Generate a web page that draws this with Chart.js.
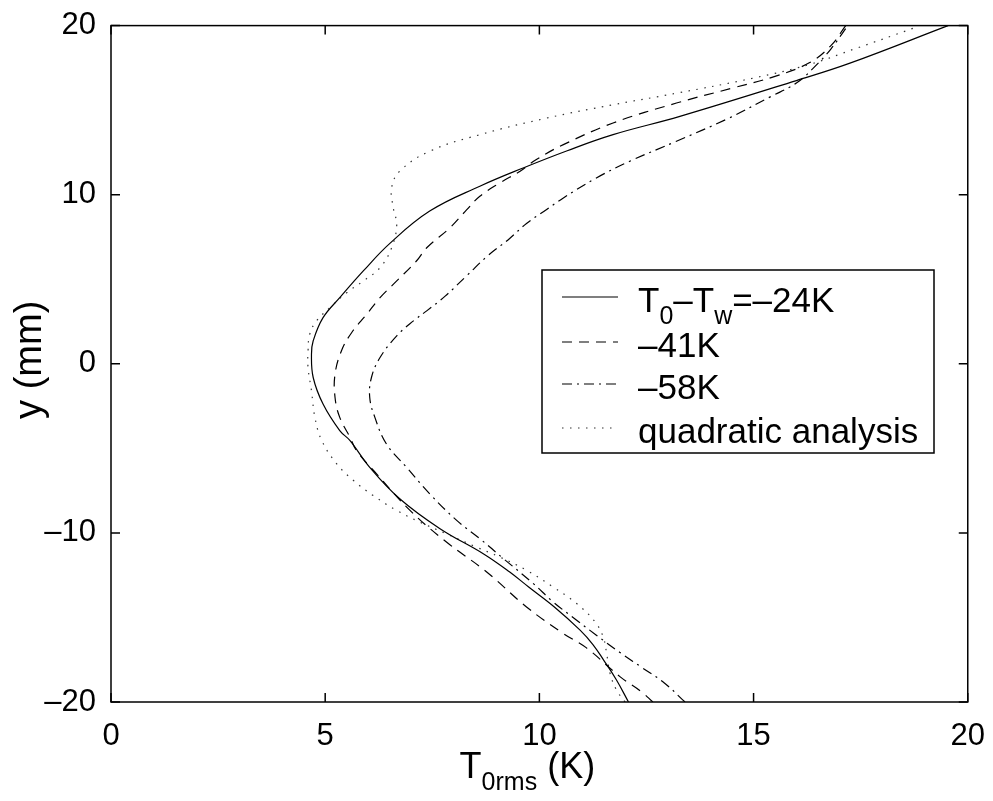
<!DOCTYPE html>
<html>
<head>
<meta charset="utf-8">
<script src="https://cdn.jsdelivr.net/npm/chart.js"></script>
<style>
  html, body { margin: 0; padding: 0; background: #fff; }
</style>
</head>
<body>
<canvas id="rmsChart" width="993" height="801"></canvas>
<script>
// T0rms (K) against y (mm), bottom to top
const y24 = [-20, -18.7, -17.52, -16.6, -15.75, -14.38, -13.2, -12.3, -11.23, -9.75, -7.98, -6.12, -4.54, -3.95, -2.38, -0.81, 0.57, 1.36, 2.73, 3.91, 5.49, 7.12, 9.03, 10.5, 11.58, 12.6, 13.55, 14.63, 16.75, 17.78, 20];
const t24 = [12.08, 11.8, 11.5, 11.25, 10.95, 10.35, 9.75, 9.3, 8.69, 7.68, 6.74, 6.04, 5.58, 5.34, 4.95, 4.72, 4.68, 4.72, 4.95, 5.34, 5.89, 6.51, 7.44, 8.61, 9.62, 10.65, 11.72, 13.28, 16.0, 17.25, 19.54];

const y41 = [-20, -19.39, -18.5, -16.8, -15.95, -14.38, -12.31, -10.54, -8.67, -6.51, -5.13, -4.35, -3.17, -1.99, -0.61, 0.77, 1.85, 2.93, 3.91, 4.9, 6.08, 6.86, 8.04, 9.1, 9.91, 10.7, 11.39, 12.08, 12.96, 14.24, 15.42, 16.3, 17.0, 17.8, 18.8, 20];
const t41 = [12.65, 12.38, 11.88, 11.1, 10.56, 9.7, 8.77, 7.83, 6.98, 6.2, 5.73, 5.58, 5.34, 5.23, 5.23, 5.38, 5.62, 5.97, 6.28, 6.67, 7.13, 7.37, 7.91, 8.3, 8.61, 9.08, 9.55, 9.93, 10.56, 11.72, 13.2, 14.5, 15.5, 16.3, 16.8, 17.15];

const y58 = [-20, -18.86, -17.92, -17.07, -16.05, -15.16, -14.08, -13.0, -11.52, -10.34, -9.26, -7.69, -6.12, -4.74, -3.17, -1.99, -0.81, 0.37, 1.65, 2.54, 3.13, 4.0, 5.2, 6.4, 7.4, 8.3, 9.13, 9.81, 10.99, 11.98, 13.16, 14.5, 15.8, 16.6, 17.5, 18.6, 20];
const t58 = [13.4, 12.91, 12.37, 11.88, 11.33, 10.87, 10.32, 9.86, 9.16, 8.61, 8.07, 7.44, 6.9, 6.43, 6.16, 6.04, 6.08, 6.28, 6.67, 7.06, 7.37, 7.8, 8.3, 8.8, 9.3, 9.7, 10.17, 10.56, 11.33, 12.11, 13.2, 14.4, 15.4, 16.0, 16.4, 16.8, 17.2];

const yQuad = [-20, -19.29, -18.31, -17.13, -16.15, -15.26, -14.18, -13.2, -12.21, -11.43, -10.84, -10.05, -9.36, -8.67, -7.79, -6.9, -5.92, -4.54, -3.17, -1.59, -0.22, 0.77, 1.75, 2.54, 3.32, 4.2, 4.9, 5.68, 6.86, 8.2, 9.22, 10.4, 11.39, 12.57, 13.55, 14.53, 15.32, 16.0, 16.9, 17.7, 18.66, 19.84, 20];
const tQuad = [12.0, 11.8, 11.65, 11.57, 11.49, 11.3, 10.87, 10.32, 9.7, 9.08, 8.53, 7.83, 7.21, 6.67, 6.12, 5.66, 5.27, 4.92, 4.76, 4.68, 4.6, 4.6, 4.64, 4.8, 5.11, 5.5, 5.89, 6.28, 6.55, 6.67, 6.59, 6.55, 6.74, 7.44, 8.61, 10.17, 11.72, 13.2, 15.0, 16.3, 17.4, 18.72, 18.85];

// legend labels, "_x" or "_{..}" means subscript
const seriesLabels = ['T_0\u2013T_w=\u201324K', '\u201341K', '\u201358K', 'quadratic analysis'];
const xTitle = 'T_{0rms} (K)';
const yTitle = 'y (mm)';

const FONT = "'Liberation Sans', Arial, Helvetica, sans-serif";
const TICK = 9;

function pairs(ts, ys) {
    return ts.map((t, i) => ({ x: t, y: ys[i] }));
}

// split "T_0" style text into normal / subscript pieces
function richParts(str) {
    const parts = [];
    const re = /_\{([^}]*)\}|_(.)/g;
    let last = 0, m;
    while ((m = re.exec(str)) !== null) {
        if (m.index > last) parts.push({ t: str.slice(last, m.index), sub: false });
        parts.push({ t: m[1] !== undefined ? m[1] : m[2], sub: true });
        last = re.lastIndex;
    }
    if (last < str.length) parts.push({ t: str.slice(last), sub: false });
    return parts;
}

function richWidth(ctx, parts, size, subSize) {
    let w = 0;
    parts.forEach(p => {
        ctx.font = (p.sub ? subSize : size) + 'px ' + FONT;
        w += ctx.measureText(p.t).width;
    });
    return w;
}

function drawRich(ctx, str, x, base, size, subSize, subDrop) {
    const parts = richParts(str);
    ctx.textAlign = 'left';
    ctx.textBaseline = 'alphabetic';
    parts.forEach(p => {
        ctx.font = (p.sub ? subSize : size) + 'px ' + FONT;
        ctx.fillText(p.t, x, p.sub ? base + subDrop : base);
        x += ctx.measureText(p.t).width;
    });
}

// matlab style box with inward ticks on all four sides
const frameTicks = {
    id: 'frameTicks',
    afterDatasetsDraw(chart) {
        const { ctx, chartArea: a, scales: { x, y } } = chart;
        ctx.save();
        ctx.strokeStyle = '#000';
        ctx.lineWidth = 1.5;
        ctx.strokeRect(a.left, a.top, a.right - a.left, a.bottom - a.top);
        ctx.beginPath();
        x.ticks.forEach(t => {
            const px = x.getPixelForValue(t.value);
            ctx.moveTo(px, a.bottom); ctx.lineTo(px, a.bottom - TICK);
            ctx.moveTo(px, a.top); ctx.lineTo(px, a.top + TICK);
        });
        y.ticks.forEach(t => {
            const py = y.getPixelForValue(t.value);
            ctx.moveTo(a.left, py); ctx.lineTo(a.left + TICK, py);
            ctx.moveTo(a.right, py); ctx.lineTo(a.right - TICK, py);
        });
        ctx.stroke();
        ctx.restore();
    }
};

const titlesAndLegend = {
    id: 'titlesAndLegend',
    afterDraw(chart) {
        const { ctx, chartArea: a } = chart;
        ctx.save();
        ctx.fillStyle = '#000';

        // x title with subscript
        const xp = richParts(xTitle);
        const w = richWidth(ctx, xp, 36, 25);
        drawRich(ctx, xTitle, (a.left + a.right) / 2 - 12 - w / 2, 778, 36, 25, 12);

        // y title
        ctx.translate(41, (a.top + a.bottom) / 2 - 4);
        ctx.rotate(-Math.PI / 2);
        ctx.font = '38px ' + FONT;
        ctx.textAlign = 'center';
        ctx.textBaseline = 'alphabetic';
        ctx.fillText(yTitle, 0, 0);
        ctx.setTransform(1, 0, 0, 1, 0, 0);

        // legend
        const box = { l: 542, t: 270, r: 934, b: 453 };
        ctx.fillStyle = '#fff';
        ctx.fillRect(box.l, box.t, box.r - box.l, box.b - box.t);
        ctx.strokeStyle = '#000';
        ctx.lineWidth = 1.5;
        ctx.strokeRect(box.l, box.t, box.r - box.l, box.b - box.t);
        const rowY = [297, 342, 384, 428];
        chart.data.datasets.forEach((ds, i) => {
            ctx.beginPath();
            ctx.lineWidth = ds.borderWidth;
            ctx.strokeStyle = ds.borderColor;
            ctx.setLineDash(ds.borderDash || []);
            ctx.moveTo(562, rowY[i]);
            ctx.lineTo(618, rowY[i]);
            ctx.stroke();
            ctx.setLineDash([]);
            ctx.fillStyle = '#000';
            drawRich(ctx, seriesLabels[i], 638, rowY[i] + 15, 35, 25, 12);
        });
        ctx.restore();
    }
};

function dashLabel(v) {
    return String(v).replace('-', '\u2013');
}

Chart.defaults.font.family = FONT;
Chart.defaults.color = '#000';

const line = (ts, ys, dash, color) => ({
    data: pairs(ts, ys),
    showLine: true,
    borderColor: color || '#000',
    borderWidth: 1.2,
    borderDash: dash,
    pointRadius: 0,
    tension: 0.4,
    fill: false
});

new Chart(document.getElementById('rmsChart').getContext('2d'), {
    type: 'scatter',
    data: {
        datasets: [
            line(t24, y24, []),
            line(t41, y41, [10, 7]),
            line(t58, y58, [10, 5, 2, 5]),
            line(tQuad, yQuad, [1.5, 6.5], '#333')
        ]
    },
    options: {
        responsive: false,
        animation: false,
        devicePixelRatio: 1,
        layout: { padding: { left: 0, right: 25, top: 24, bottom: 0 } },
        scales: {
            x: {
                type: 'linear', min: 0, max: 20,
                grid: { display: false }, border: { display: false },
                ticks: { stepSize: 5, padding: 8, font: { size: 31 }, color: '#000', callback: dashLabel },
                afterFit: s => { s.height = 99; }
            },
            y: {
                type: 'linear', min: -20, max: 20,
                grid: { display: false }, border: { display: false },
                ticks: { stepSize: 10, padding: 7, font: { size: 31 }, color: '#000', callback: dashLabel },
                afterFit: s => { s.width = 111; }
            }
        },
        plugins: {
            legend: { display: false },
            tooltip: { enabled: false }
        }
    },
    plugins: [frameTicks, titlesAndLegend]
});
</script>
</body>
</html>
